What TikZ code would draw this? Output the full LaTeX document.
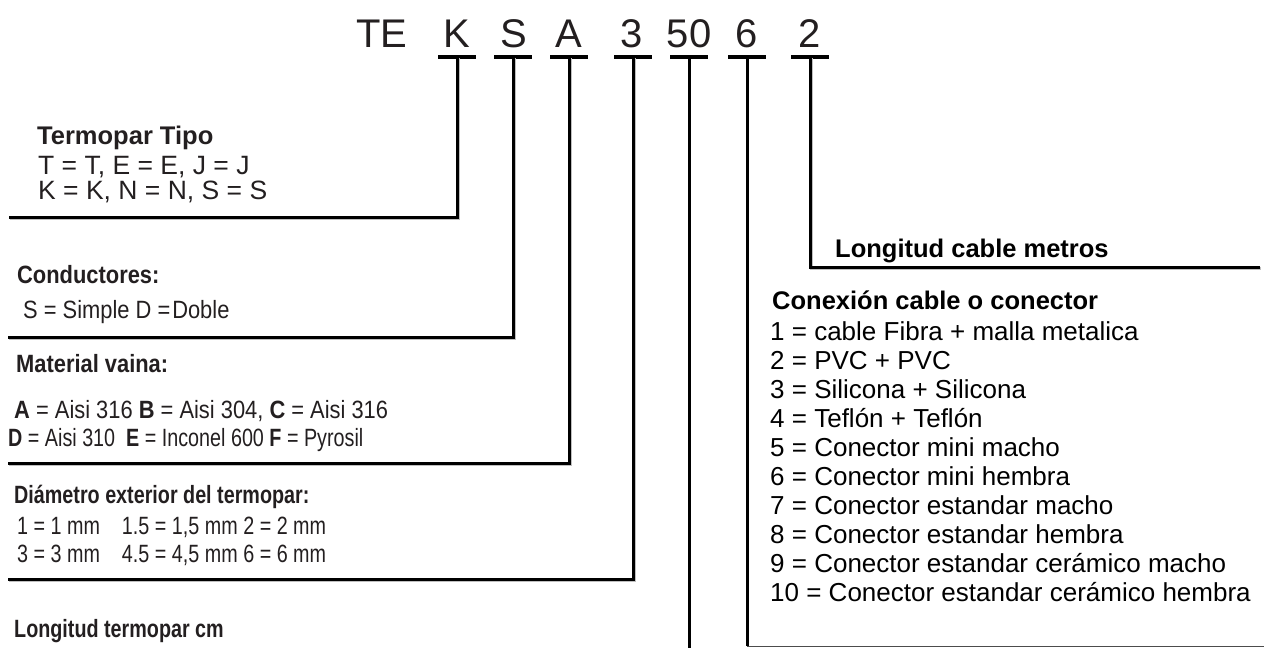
\documentclass[tikz,border=0pt]{standalone}
\usepackage{fontspec}
\setmainfont{Liberation Sans}
\newfontfamily\condfont[FakeStretch=0.875]{Liberation Sans}
\newfontfamily\narrfont[FakeStretch=0.79]{Liberation Sans}
\definecolor{ink}{HTML}{231F20}
\begin{document}
\begin{tikzpicture}[x=1pt,y=-1pt,
  code/.style={font=\fontsize{40}{40}\selectfont, anchor=base, inner sep=0pt, text=ink},
  bar/.style={line width=4pt, black},
  lead/.style={line width=3pt, black, line join=miter},
  shade/.style={line width=3pt, black!25, line join=miter, transform canvas={shift={(1.2pt,-1.2pt)}}},
  ttlA/.style={font=\bfseries\fontsize{25.5}{26}\selectfont, anchor=base west, inner sep=0pt, text=ink},
  txtA/.style={font=\fontsize{26.5}{27}\selectfont, anchor=base west, inner sep=0pt, text=ink},
  ttlB/.style={font=\condfont\bfseries\fontsize{25}{26}\selectfont, anchor=base west, inner sep=0pt, text=ink},
  txtB/.style={font=\condfont\fontsize{25}{26}\selectfont, anchor=base west, inner sep=0pt, text=ink},
  ttlC/.style={font=\narrfont\bfseries\fontsize{25}{26}\selectfont, anchor=base west, inner sep=0pt, text=ink},
  txtC/.style={font=\narrfont\fontsize{25}{26}\selectfont, anchor=base west, inner sep=0pt, text=ink},
  ttlR/.style={font=\bfseries\fontsize{25.5}{26}\selectfont, anchor=base west, inner sep=0pt, text=black},
  txtR/.style={font=\fontsize{26}{27}\selectfont, anchor=base west, inner sep=0pt, text=black}]
\useasboundingbox (0,0) rectangle (1264,648);

% code letters
\node[code] (te) at (382,47) {TE};
\node[code] (k) at (457,47) {K};
\node[code] (s) at (514,47) {S};
\node[code] (a) at (569,47) {A};
\node[code] (d) at (632,47) {3};
\node[code] (l) at (689,47) {50};
\node[code] (c) at (747,47) {6};
\node[code] (m) at (810,47) {2};

% bars under letters
\foreach \n/\x in {k/457,s/513,a/569,d/633,l/689,c/747,m/810}{
  \coordinate (\n bar) at (\x,57);
  \draw[bar] ([xshift=-19pt]\n bar) -- ([xshift=19pt]\n bar);
}

% leader ends
\coordinate (kend) at (9,217);
\coordinate (send) at (8,337);
\coordinate (aend) at (8,463);
\coordinate (dend) at (8,579);
\coordinate (lend) at (689,648);
\coordinate (cend) at (747,646);
\coordinate (cfar) at (1264,646);
\coordinate (mend) at (1260,267);

\foreach \n in {k,s,a,d,m}{
  \draw[shade] (\n bar) |- (\n end);
}
\draw[lead] (kbar) |- (kend);
\draw[lead] (sbar) |- (send);
\draw[lead] (abar) |- (aend);
\draw[lead] (dbar) |- (dend);
\draw[lead] (lbar) -- (lend);
\draw[lead] (cbar) -- (cend);
\draw[line width=1pt, black!70] (cend) -- (cfar);
\draw[lead] (mbar) |- (mend);

% Termopar tipo
\node[ttlA] (tt) at (37,144) {Termopar Tipo};
\node[txtA] (tt1) at (38,174) {T = T, E = E, J = J};
\node[txtA] (tt2) at (38,199) {K = K, N = N, S = S};

% Conductores
\node[ttlB] (co) at (17,283) {Conductores:};
\node[txtB] (co1) at (23,318) {S = Simple D =\hspace{2pt}Doble};

% Material vaina
\node[ttlB] (mv) at (16,372) {Material vaina:};
\node[txtB] (mv1) at (14,418) {\textbf{A} = Aisi 316 \textbf{B} = Aisi 304, \textbf{C} = Aisi 316};
\node[txtC] (mv2) at (8,446) {\textbf{D} = Aisi 310\ \ \textbf{E} = Inconel 600 \textbf{F} = Pyrosil};

% Diametro
\node[ttlC] (di) at (14,503) {Diámetro exterior del termopar:};
\node[txtC] (di1) at (17,534) {1 = 1 mm\ \ \ \ 1.5 = 1,5 mm 2 = 2 mm};
\node[txtC] (di2) at (17,562) {3 = 3 mm\ \ \ \ 4.5 = 4,5 mm 6 = 6 mm};

% Longitud termopar
\node[ttlC] (lt) at (14,637) {Longitud termopar cm};

% Right side
\node[ttlR] (lc) at (835,257) {Longitud cable metros};
\node[ttlR] (cx) at (772,309) {Conexión cable o conector};
\foreach \i/\t in {1/1 = cable Fibra + malla metalica,
                   2/2 = PVC + PVC,
                   3/3 = Silicona + Silicona,
                   4/4 = Teflón + Teflón,
                   5/5 = Conector mini macho,
                   6/6 = Conector mini hembra,
                   7/7 = Conector estandar macho,
                   8/8 = Conector estandar hembra,
                   9/9 = Conector estandar cerámico macho,
                   10/10 = Conector estandar cerámico hembra}{
  \node[txtR] (cx\i) at (770,{311+29*\i}) {\t};
}
\end{tikzpicture}
\end{document}
